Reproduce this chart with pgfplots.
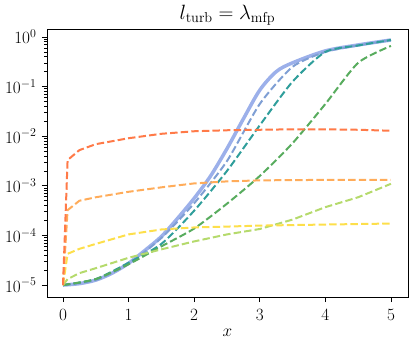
\documentclass[border=0pt]{standalone}
\usepackage{pgfplots}
\pgfplotsset{compat=1.18}
\definecolor{cA}{HTML}{9CB0EA}
\definecolor{cB}{HTML}{7F9FD4}
\definecolor{cC}{HTML}{2F9E9B}
\definecolor{cD}{HTML}{58AC5E}
\definecolor{cE}{HTML}{B5DA6C}
\definecolor{cF}{HTML}{FDDF4B}
\definecolor{cG}{HTML}{FFAC5A}
\definecolor{cH}{HTML}{FF7A48}
\begin{document}
\begin{tikzpicture}
\begin{axis}[
    scale only axis,
    width=361bp, height=268bp,
    ymode=log,
    xmin=-0.244, xmax=5.26,
    ymin=5.75e-6, ymax=1.45,
    xtick={0,1,2,3,4,5},
    ytick={1e-5,1e-4,1e-3,1e-2,1e-1,1},
    tick pos=left,
    tick align=outside,
    major tick length=5bp,
    minor tick length=2.8bp,
    every tick/.style={black, line width=0.8bp},
    axis line style={black, line width=0.8bp},
    font=\fontsize{18}{20}\selectfont,
    xticklabel style={yshift=-4bp},
    yticklabel style={xshift=-2bp},
    title={$l_{\mathrm{turb}} = \lambda_{\mathrm{mfp}}$},
    title style={at={(0.5,1)}, anchor=base, yshift=4bp, font=\fontsize{21.6}{24}\selectfont},
    xlabel={$x$},
    xlabel style={yshift=-2bp},
    every axis plot/.append style={line join=round},
    dsh/.style={line width=2bp, dash pattern=on 7.4bp off 3.2bp},
]
\addplot[cA, line width=3.5bp, smooth, tension=0.5] coordinates {
  (0,1e-5) (0.25,1.07e-5) (0.5,1.26e-5) (0.75,1.74e-5) (1.0,2.75e-5)
  (1.25,5.01e-5) (1.5,9.55e-5) (1.75,2.24e-4) (2.0,5.62e-4) (2.25,1.58e-3)
  (2.5,5.62e-3) (2.75,2.24e-2) (3.0,8.5e-2) (3.25,0.2) (3.5,0.302)
  (4.0,0.525) (4.5,0.692) (5.0,0.871)
};
\addplot[cB, dsh, smooth, tension=0.4] coordinates {
  (0,1e-5) (0.5,1.26e-5) (1,2.69e-5) (1.5,8.91e-5) (2,4.47e-4)
  (2.5,3.16e-3) (3,4.47e-2) (3.5,0.251) (4,0.501) (4.5,0.676) (5,0.871)
};
\addplot[cC, dsh, smooth, tension=0.4] coordinates {
  (0,1e-5) (0.5,1.32e-5) (1,2.82e-5) (1.5,6.76e-5) (2,3.16e-4)
  (2.5,2.0e-3) (3,1.66e-2) (3.5,0.126) (4,0.501) (4.5,0.676) (5,0.871)
};
\addplot[cD, dsh, smooth, tension=0.4] coordinates {
  (0,1e-5) (0.5,1.32e-5) (1,2.63e-5) (1.5,6.03e-5) (2,1.38e-4)
  (2.5,4.37e-4) (3,1.58e-3) (3.5,7.24e-3) (4,4.47e-2) (4.5,0.302) (5,0.661)
};
\addplot[cE, dsh] coordinates {
  (0,1e-5) (0.07,1.32e-5) (0.25,1.74e-5) (0.5,2.19e-5) (1,3.55e-5)
  (1.5,5.25e-5) (2,7.59e-5) (2.5,1.05e-4) (3,1.35e-4) (3.5,2.09e-4)
  (4,3.72e-4) (4.5,5.89e-4) (5,1.10e-3)
};
\addplot[cF, dsh] coordinates {
  (0,1e-5) (0.07,4.27e-5) (0.25,5.37e-5) (0.5,6.76e-5) (1,1.05e-4)
  (1.5,1.32e-4) (2,1.45e-4) (2.5,1.51e-4) (3,1.58e-4) (4,1.66e-4) (5,1.74e-4)
};
\addplot[cG, dsh] coordinates {
  (0,1e-5) (0.07,3.24e-4) (0.25,5.01e-4) (0.5,5.89e-4) (1,7.59e-4)
  (1.5,9.33e-4) (2,1.12e-3) (2.5,1.23e-3) (3,1.29e-3) (4,1.32e-3) (5,1.32e-3)
};
\addplot[cH, dsh] coordinates {
  (0,1e-5) (0.07,3.31e-3) (0.25,5.25e-3) (0.5,6.92e-3) (0.75,7.94e-3)
  (1,9.12e-3) (1.5,1.12e-2) (2,1.26e-2) (2.5,1.32e-2) (3,1.35e-2)
  (3.5,1.38e-2) (4,1.38e-2) (4.5,1.35e-2) (5,1.29e-2)
};
\end{axis}
\pgfresetboundingbox
\path (current axis.south west) ++(-47bp,-51bp) coordinate (bl);
\path (current axis.north east) ++(7bp,29bp) coordinate (tr);
\useasboundingbox (bl) rectangle (tr);
\end{tikzpicture}
\end{document}
